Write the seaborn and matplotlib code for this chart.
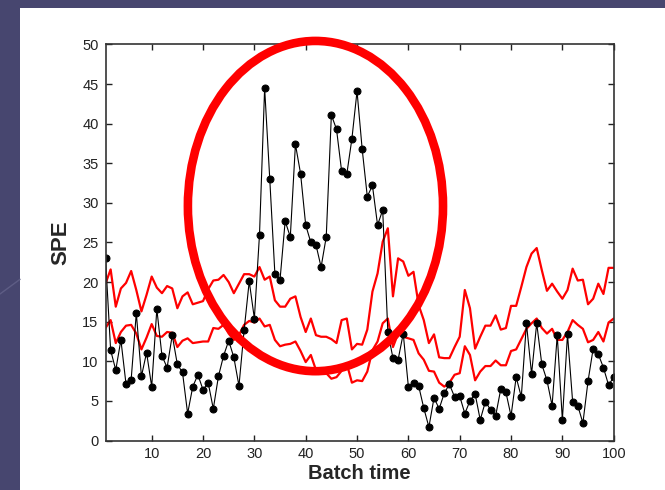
import numpy as np
import pandas as pd
import matplotlib
matplotlib.use("Agg")
import matplotlib.pyplot as plt
from matplotlib.patches import Ellipse, Rectangle
import seaborn as sns

# SPE values per batch time
batch = list(range(1, 101))
spe = [23.1, 11.4, 8.9, 12.7, 7.1, 7.7, 16.1, 8.1, 11.1, 6.8,
       16.6, 10.7, 9.2, 13.3, 9.6, 8.6, 3.4, 6.8, 8.3, 6.4,
       7.3, 4.0, 8.1, 10.7, 12.6, 10.5, 6.9, 13.9, 20.1, 15.4,
       26.0, 44.5, 33.0, 21.0, 20.3, 27.7, 25.7, 37.4, 33.7, 27.2,
       25.0, 24.7, 21.9, 25.7, 41.1, 39.3, 34.0, 33.6, 38.1, 44.1,
       36.8, 30.8, 32.2, 27.2, 29.1, 13.7, 10.4, 10.2, 13.5, 6.8,
       7.3, 6.9, 4.1, 1.7, 5.4, 4.0, 6.0, 7.1, 5.5, 5.6,
       3.4, 5.0, 5.9, 2.6, 4.9, 3.9, 3.1, 6.5, 6.1, 3.1,
       8.0, 5.5, 14.8, 8.4, 14.8, 9.6, 7.6, 4.4, 13.3, 2.6,
       13.4, 4.9, 4.4, 2.2, 7.5, 11.6, 10.9, 9.2, 7.0, 8.0]

# control limits (upper and lower red lines)
limit_hi = [19.8, 21.6, 16.9, 19.2, 19.9, 21.4, 19.0, 16.3, 18.4, 20.7,
            19.3, 18.6, 19.5, 19.2, 16.7, 18.2, 18.7, 17.2, 17.4, 17.6,
            19.1, 20.2, 20.3, 20.9, 20.0, 18.6, 19.8, 21.0, 21.0, 20.7,
            21.9, 20.3, 20.7, 17.7, 16.9, 16.9, 17.9, 18.2, 15.6, 13.7,
            15.4, 13.3, 13.1, 13.1, 12.8, 12.3, 15.2, 15.4, 11.5, 12.2,
            12.1, 14.0, 18.8, 21.1, 25.1, 26.8, 18.2, 23.0, 22.6, 20.8,
            21.3, 17.1, 15.2, 12.3, 13.4, 10.5, 10.4, 10.4, 11.8, 13.1,
            19.0, 16.7, 11.6, 13.1, 14.5, 14.5, 15.8, 14.0, 14.2, 17.0,
            17.0, 19.4, 21.9, 23.6, 24.3, 21.5, 18.9, 19.8, 18.8, 17.9,
            19.0, 21.7, 20.2, 20.3, 17.2, 17.9, 19.8, 18.5, 21.8, 21.8]

limit_lo = [14.2, 15.2, 12.3, 13.7, 14.5, 14.6, 13.5, 11.5, 13.0, 14.7,
            13.2, 13.1, 13.7, 13.6, 11.8, 12.6, 12.9, 12.3, 12.4, 12.5,
            12.5, 14.2, 14.1, 14.6, 13.5, 12.7, 13.3, 14.6, 15.1, 14.9,
            15.4, 14.4, 14.6, 12.7, 11.9, 12.1, 12.2, 12.5, 11.3, 9.9,
            10.8, 8.9, 8.5, 8.5, 7.8, 8.0, 8.8, 9.7, 7.3, 7.6,
            7.5, 8.7, 11.4, 12.5, 14.8, 15.4, 11.8, 13.5, 13.1, 12.9,
            12.7, 11.0, 10.2, 8.8, 8.7, 7.3, 6.8, 7.3, 8.3, 8.5,
            11.9, 10.8, 7.6, 8.7, 9.4, 9.4, 10.1, 9.5, 9.5, 11.3,
            11.5, 12.8, 14.1, 14.8, 15.4, 14.2, 13.5, 14.1, 12.7, 12.7,
            13.7, 15.2, 14.6, 14.1, 12.4, 12.7, 13.7, 12.5, 14.9, 15.4]

df = pd.DataFrame({"batch": batch, "spe": spe, "hi": limit_hi, "lo": limit_lo})

sns.set_style("ticks")
plt.rcParams["font.family"] = ["Liberation Sans", "DejaVu Sans"]

fig = plt.figure(figsize=(6.65, 4.9), dpi=100)
fig.patch.set_facecolor("#47466f")
# white slide panel
fig.add_artist(Rectangle((20 / 665, 0), 1, 1 - 8 / 490, transform=fig.transFigure,
                         facecolor="white", edgecolor="none", zorder=0))
fig.add_artist(plt.Line2D([0, 20 / 665], [0.40, 0.43], transform=fig.transFigure,
                          color="#5e5d85", lw=1, zorder=0))

ax = fig.add_axes([105.5 / 665, 1 - 440.5 / 490, 508.2 / 665, 396 / 490])
ax.set_facecolor("white")

sns.lineplot(data=df, x="batch", y="hi", ax=ax, color="red", lw=1.6)
sns.lineplot(data=df, x="batch", y="lo", ax=ax, color="red", lw=1.6)
sns.lineplot(data=df, x="batch", y="spe", ax=ax, color="black", lw=0.8,
             marker="o", markersize=5, markeredgecolor="black")

# highlight of the fault region
ax.add_patch(Ellipse((41.9, 29.6), 49.7, 41.7, fill=False, edgecolor="red",
                     lw=6.2, clip_on=False, zorder=5))

ax.set_xlim(1, 100)
ax.set_ylim(0, 50)
ax.set_xticks(np.arange(10, 101, 10))
ax.set_yticks(np.arange(0, 51, 5))
ax.tick_params(direction="in", length=4.5, width=1, top=True, right=True,
               labelsize=10.5, colors="#222222", pad=5)
for s in ax.spines.values():
    s.set_visible(True)
    s.set_color("#333333")
    s.set_linewidth(1.2)

ax.set_xlabel("Batch time", fontsize=14.5, fontweight="bold", labelpad=2)
ax.set_ylabel("SPE", fontsize=16, fontweight="bold", labelpad=8)

fig.savefig("out.png", dpi=100, facecolor=fig.get_facecolor())
